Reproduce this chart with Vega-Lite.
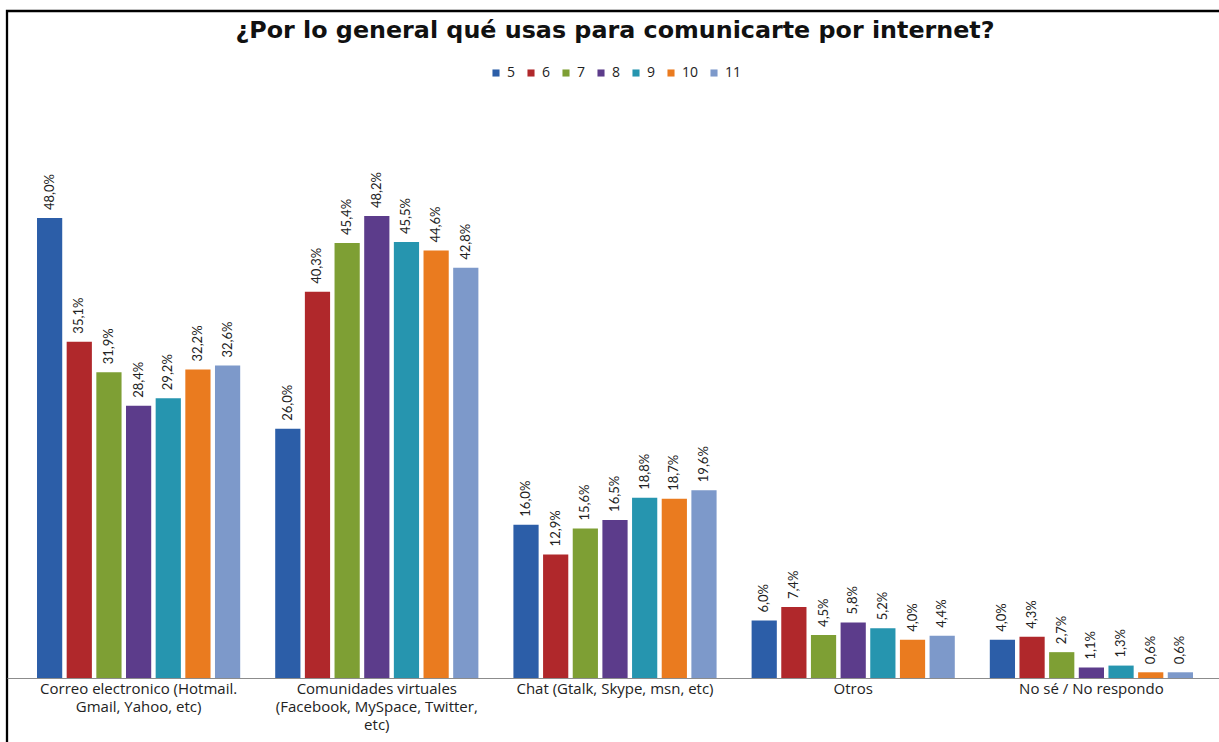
{
  "$schema": "https://vega.github.io/schema/vega-lite/v6.json",
  "width": 1216,
  "height": 760,
  "padding": {"left": 7, "top": 11, "right": 0, "bottom": 0},
  "autosize": {"type": "pad"},
  "background": "white",
  "config": {
    "locale": {"number": {"decimal": ",", "thousands": ".", "grouping": [3], "currency": ["", " €"]}},
    "view": {"stroke": "black", "strokeWidth": 2.3},
    "font": "Open Sans"
  },
  "title": {
    "text": "¿Por lo general qué usas para comunicarte por internet?",
    "font": "DejaVu Sans",
    "fontSize": 23.8,
    "fontWeight": "bold",
    "color": "#111111",
    "anchor": "middle",
    "offset": -32
  },
  "data": {
    "values": [
      {"categoria": "Correo electronico (Hotmail. Gmail, Yahoo, etc)", "grado": 5, "valor": 0.480},
      {"categoria": "Correo electronico (Hotmail. Gmail, Yahoo, etc)", "grado": 6, "valor": 0.351},
      {"categoria": "Correo electronico (Hotmail. Gmail, Yahoo, etc)", "grado": 7, "valor": 0.319},
      {"categoria": "Correo electronico (Hotmail. Gmail, Yahoo, etc)", "grado": 8, "valor": 0.284},
      {"categoria": "Correo electronico (Hotmail. Gmail, Yahoo, etc)", "grado": 9, "valor": 0.292},
      {"categoria": "Correo electronico (Hotmail. Gmail, Yahoo, etc)", "grado": 10, "valor": 0.322},
      {"categoria": "Correo electronico (Hotmail. Gmail, Yahoo, etc)", "grado": 11, "valor": 0.326},
      {"categoria": "Comunidades virtuales (Facebook, MySpace, Twitter, etc)", "grado": 5, "valor": 0.260},
      {"categoria": "Comunidades virtuales (Facebook, MySpace, Twitter, etc)", "grado": 6, "valor": 0.403},
      {"categoria": "Comunidades virtuales (Facebook, MySpace, Twitter, etc)", "grado": 7, "valor": 0.454},
      {"categoria": "Comunidades virtuales (Facebook, MySpace, Twitter, etc)", "grado": 8, "valor": 0.482},
      {"categoria": "Comunidades virtuales (Facebook, MySpace, Twitter, etc)", "grado": 9, "valor": 0.455},
      {"categoria": "Comunidades virtuales (Facebook, MySpace, Twitter, etc)", "grado": 10, "valor": 0.446},
      {"categoria": "Comunidades virtuales (Facebook, MySpace, Twitter, etc)", "grado": 11, "valor": 0.428},
      {"categoria": "Chat (Gtalk, Skype, msn, etc)", "grado": 5, "valor": 0.160},
      {"categoria": "Chat (Gtalk, Skype, msn, etc)", "grado": 6, "valor": 0.129},
      {"categoria": "Chat (Gtalk, Skype, msn, etc)", "grado": 7, "valor": 0.156},
      {"categoria": "Chat (Gtalk, Skype, msn, etc)", "grado": 8, "valor": 0.165},
      {"categoria": "Chat (Gtalk, Skype, msn, etc)", "grado": 9, "valor": 0.188},
      {"categoria": "Chat (Gtalk, Skype, msn, etc)", "grado": 10, "valor": 0.187},
      {"categoria": "Chat (Gtalk, Skype, msn, etc)", "grado": 11, "valor": 0.196},
      {"categoria": "Otros", "grado": 5, "valor": 0.060},
      {"categoria": "Otros", "grado": 6, "valor": 0.074},
      {"categoria": "Otros", "grado": 7, "valor": 0.045},
      {"categoria": "Otros", "grado": 8, "valor": 0.058},
      {"categoria": "Otros", "grado": 9, "valor": 0.052},
      {"categoria": "Otros", "grado": 10, "valor": 0.040},
      {"categoria": "Otros", "grado": 11, "valor": 0.044},
      {"categoria": "No sé / No respondo", "grado": 5, "valor": 0.040},
      {"categoria": "No sé / No respondo", "grado": 6, "valor": 0.043},
      {"categoria": "No sé / No respondo", "grado": 7, "valor": 0.027},
      {"categoria": "No sé / No respondo", "grado": 8, "valor": 0.011},
      {"categoria": "No sé / No respondo", "grado": 9, "valor": 0.013},
      {"categoria": "No sé / No respondo", "grado": 10, "valor": 0.006},
      {"categoria": "No sé / No respondo", "grado": 11, "valor": 0.006}
    ]
  },
  "encoding": {
    "x": {
      "field": "categoria",
      "type": "nominal",
      "sort": null,
      "scale": {"paddingInner": 0.147, "paddingOuter": 0.126},
      "axis": {
        "orient": "bottom",
        "offset": -93,
        "title": null,
        "labelAngle": 0,
        "ticks": false,
        "domain": true,
        "domainColor": "#8c8c8c",
        "domainWidth": 1,
        "labelPadding": 3,
        "labelFont": "Open Sans",
        "labelFontSize": 15,
        "labelColor": "#222222",
        "labelLineHeight": 18,
        "labelLimit": 0,
        "labelBaseline": "top",
        "labelExpr": "datum.value == 'Correo electronico (Hotmail. Gmail, Yahoo, etc)' ? ['Correo electronico (Hotmail.', 'Gmail, Yahoo, etc)'] : datum.value == 'Comunidades virtuales (Facebook, MySpace, Twitter, etc)' ? ['Comunidades virtuales', '(Facebook, MySpace, Twitter,', 'etc)'] : datum.value"
      }
    },
    "xOffset": {
      "field": "grado",
      "type": "ordinal",
      "scale": {"paddingInner": 0.15, "paddingOuter": 0}
    },
    "y": {
      "field": "valor",
      "type": "quantitative",
      "scale": {"domain": [-0.097, 0.696], "nice": false, "zero": false},
      "axis": null
    }
  },
  "layer": [
    {
      "mark": {"type": "bar"},
      "encoding": {
        "y2": {"datum": 0},
        "color": {
          "field": "grado",
          "type": "ordinal",
          "scale": {"range": ["#2C5EA8", "#B0282B", "#7E9F34", "#5C3C8B", "#2695AF", "#EA7B1F", "#7D99CA"]},
          "legend": {
            "orient": "none",
            "legendX": 482,
            "legendY": 55,
            "direction": "horizontal",
            "title": null,
            "symbolType": "square",
            "symbolSize": 50,
            "symbolStrokeWidth": 0,
            "labelFont": "Open Sans",
            "labelFontSize": 14,
            "labelColor": "#222222",
            "labelOffset": 4,
            "columnPadding": 8
          }
        }
      }
    },
    {
      "mark": {"type": "text", "angle": 270, "align": "left", "baseline": "middle", "dx": 8, "font": "Lato", "fontSize": 13, "color": "#222222"},
      "encoding": {
        "text": {"field": "valor", "type": "quantitative", "format": ".1%"}
      }
    }
  ]
}
